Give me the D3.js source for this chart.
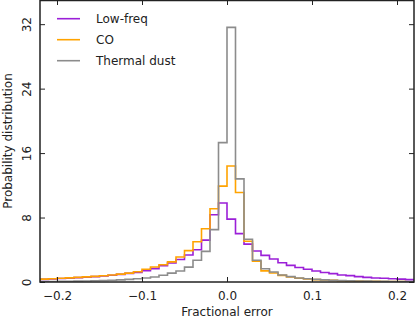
<!DOCTYPE html>
<html><head><meta charset="utf-8">
<script src="https://cdn.jsdelivr.net/npm/d3@7"></script>
<style>
body{margin:0;background:#fff;}
text{font-family:"DejaVu Sans",sans-serif;fill:#222;}
</style></head>
<body><svg id="c" width="415" height="320"></svg>
<script>
// bin edges: -0.22 .. 0.22 step 0.01 (44 bins)
const binStart = -0.22, binWidth = 0.01;
const seriesNames = ["Low-freq", "CO", "Thermal dust"];
const seriesColors = ["#9b1fd8", "#ffa300", "#8c8c8c"];
const lowFreq = [0.33,0.38,0.43,0.48,0.54,0.6,0.67,0.75,0.84,0.95,1.07,1.2,1.4,1.66,2.03,2.36,2.8,3.35,4.0,5.2,8.35,9.8,
                 7.8,6.0,4.7,3.85,3.3,2.86,2.38,2.06,1.8,1.58,1.37,1.17,1.04,0.87,0.79,0.67,0.58,0.5,0.46,0.4,0.36,0.3];
const co = [0.36,0.41,0.46,0.51,0.57,0.63,0.7,0.78,0.87,0.98,1.1,1.28,1.58,1.87,2.15,2.5,3.1,3.9,5.0,6.6,9.1,11.9,
            14.4,11.1,5.05,2.57,1.38,1.12,0.82,0.62,0.47,0.37,0.3,0.24,0.2,0.16,0.13,0.11,0.09,0.08,0.07,0.06,0.05,0.04];
const dust = [0.06,0.07,0.08,0.09,0.11,0.13,0.15,0.18,0.22,0.27,0.33,0.4,0.5,0.62,0.83,1.1,1.37,1.85,2.7,3.8,6.5,17.3,
              31.6,12.8,5.3,2.7,1.65,1.25,0.87,0.67,0.5,0.4,0.33,0.27,0.22,0.18,0.15,0.13,0.11,0.09,0.08,0.07,0.06,0.05];
const xTicks = [-0.2,-0.1,0.0,0.1,0.2];
const yTicks = [0,8,16,24,32];
const xLabel = "Fractional error", yLabel = "Probability distribution";

const svg = d3.select("#c");
const L = 40, R = 414, T = 0, B = 282;
const x = d3.scaleLinear().domain([-0.22,0.22]).range([L,R]);
const y = d3.scaleLinear().domain([0,35]).range([B,T]);

svg.append("defs").append("clipPath").attr("id","clip")
  .append("rect").attr("x",L).attr("y",T).attr("width",R-L).attr("height",B-T);

function stepPts(vals){
  const pts = [[binStart,0]];
  vals.forEach((v,i)=>{ pts.push([binStart+i*binWidth, v]); pts.push([binStart+(i+1)*binWidth, v]); });
  pts.push([binStart+vals.length*binWidth, 0]);
  return pts;
}
const line = d3.line().x(d=>x(d[0])).y(d=>y(d[1]));
const g = svg.append("g").attr("clip-path","url(#clip)");
[lowFreq, co, dust].forEach((vals,i)=>{
  g.append("path").attr("d", line(stepPts(vals))).attr("fill","none")
   .attr("stroke", seriesColors[i]).attr("stroke-width",1.6).attr("stroke-linejoin","miter");
});

// axes (ticks inside, on all four sides)
const fmt = d => d3.format(".1f")(d).replace("-", "\u2212");
const ax = svg.append("g").attr("transform",`translate(0,${B})`)
  .call(d3.axisBottom(x).tickValues(xTicks).tickSize(-5).tickPadding(9).tickFormat(fmt));
const axT = svg.append("g").attr("transform",`translate(0,${T})`)
  .call(d3.axisTop(x).tickValues(xTicks).tickSize(-5).tickFormat(""));
const ay = svg.append("g").attr("transform",`translate(${L},0)`)
  .call(d3.axisLeft(y).tickValues(yTicks).tickSize(-5).tickFormat(d3.format("d")));
const ayR = svg.append("g").attr("transform",`translate(${R},0)`)
  .call(d3.axisRight(y).tickValues(yTicks).tickSize(-5).tickFormat(""));
[ax,axT,ay,ayR].forEach(a=>{
  a.select(".domain").remove();
  a.selectAll(".tick line").attr("stroke","#222").attr("stroke-width",1);
  a.selectAll(".tick text").attr("font-size",12).attr("fill","#222").attr("font-family","DejaVu Sans");
});
// rotate y tick labels
ay.selectAll(".tick text").attr("x",null).attr("dy",null)
  .attr("text-anchor","middle")
  .attr("transform","translate(-9,0) rotate(-90)");

// frame
svg.append("rect").attr("x",L).attr("y",T+0.5).attr("width",R-L).attr("height",B-T-0.5)
  .attr("fill","none").attr("stroke","#222").attr("stroke-width",1.5);

// axis labels
svg.append("text").attr("x",(L+R)/2).attr("y",316).attr("text-anchor","middle")
  .attr("font-size",12).text(xLabel);
svg.append("text").attr("transform",`translate(12,${(T+B)/2}) rotate(-90)`)
  .attr("text-anchor","middle").attr("font-size",12).text(yLabel);

// legend
const lg = svg.append("g");
seriesNames.forEach((n,i)=>{
  const yy = 18.7 + i*21;
  lg.append("line").attr("x1",57).attr("x2",80).attr("y1",yy).attr("y2",yy)
    .attr("stroke",seriesColors[i]).attr("stroke-width",1.6);
  lg.append("text").attr("x",96).attr("y",yy+4.5).attr("font-size",12).text(n);
});
</script></body></html>
